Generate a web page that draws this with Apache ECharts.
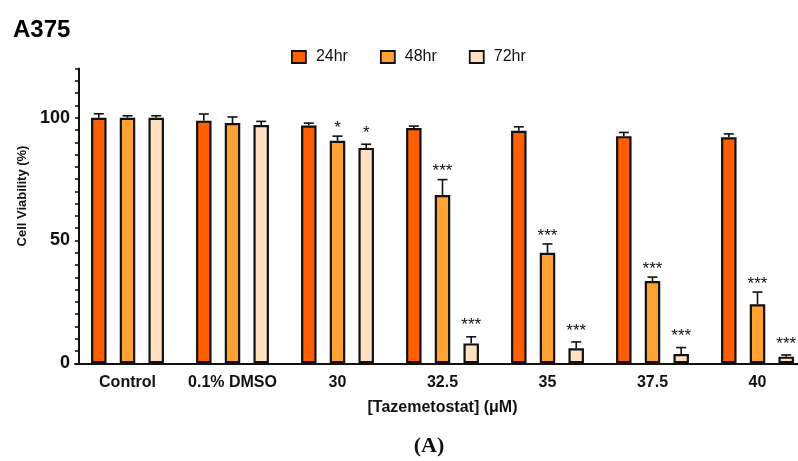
<!DOCTYPE html>
<html>
<head>
<meta charset="utf-8">
<script src="https://cdn.jsdelivr.net/npm/echarts@6/dist/echarts.min.js"></script>
<style>
html,body{margin:0;padding:0;background:#fff;}
#chart{width:798px;height:461px;}
</style>
</head>
<body>
<div id="chart"></div>
<script>
var categories = ['Control', '0.1% DMSO', '30', '32.5', '35', '37.5', '40'];
var seriesNames = ['24hr', '48hr', '72hr'];
var mean24 = [100, 98.8, 96.8, 95.8, 94.7, 92.5, 92.0];
var err24  = [1.6, 2.7, 1.0, 0.8, 1.6, 1.5, 1.4];
var mean48 = [100, 97.8, 90.6, 68.5, 45.0, 33.5, 24.0];
var err48  = [0.8, 2.5, 1.9, 6.3, 3.6, 1.6, 5.0];
var mean72 = [100, 97.0, 87.7, 8.1, 6.1, 3.8, 2.7];
var err72  = [0.8, 1.5, 1.5, 2.7, 2.6, 2.6, 0.7];
var sig24  = ['', '', '', '', '', '', ''];
var sig48  = ['', '', '*', '***', '***', '***', '***'];
var sig72  = ['', '', '*', '***', '***', '***', '***'];
var yTickLabels = [0, 50, 100];

var colors = ['#FF5F00', '#FFA133', '#FFE0C0'];
var means = [mean24, mean48, mean72];
var errs = [err24, err48, err72];
var sigs = [sig24, sig48, sig72];
var FONT = "'Liberation Sans', Arial, Helvetica, sans-serif";
var BAR_W = 15.5, BORDER = 2.2;
var STEP = 28.7;
var BAR_GAP = (STEP - BAR_W) / BAR_W;
var starGap = [12, 12, 15];

var chart = echarts.init(document.getElementById('chart'), null, {renderer: 'canvas'});

var series = [];
seriesNames.forEach(function (name, s) {
  series.push({
    name: name,
    type: 'bar',
    data: means[s],
    barWidth: BAR_W,
    barGap: (BAR_GAP * 100) + '%',
    itemStyle: {color: colors[s], borderColor: '#111', borderWidth: BORDER},
    emphasis: {disabled: true},
    z: 2
  });
});
seriesNames.forEach(function (name, s) {
  series.push({
    type: 'custom',
    name: name + '_err',
    data: means[s].map(function (m, i) { return [i, m, errs[s][i]]; }),
    z: 5,
    silent: true,
    renderItem: function (params, api) {
      var i = api.value(0), m = api.value(1), e = api.value(2);
      var x = api.coord([i, 0])[0] + (s - 1) * STEP;
      var yTop = api.coord([i, m])[1];
      var yErr = api.coord([i, m + e])[1];
      var children = [
        {type: 'line', shape: {x1: x, y1: yTop, x2: x, y2: yErr}, style: {stroke: '#111', lineWidth: 1.6}},
        {type: 'line', shape: {x1: x - 5, y1: yErr, x2: x + 5, y2: yErr}, style: {stroke: '#111', lineWidth: 1.6}}
      ];
      var t = sigs[s][params.dataIndex];
      if (t) {
        children.push({type: 'text', style: {text: t, x: x, y: yErr - starGap[s] + 4, align: 'center', verticalAlign: 'middle', font: '17px ' + FONT, fill: '#111'}});
      }
      return {type: 'group', children: children};
    }
  });
});

chart.setOption({
  animation: false,
  backgroundColor: '#fff',
  title: {
    text: 'A375', left: 8, top: 13,
    textStyle: {fontFamily: FONT, fontSize: 24, fontWeight: 'bold', color: '#000'}
  },
  legend: {
    data: seriesNames,
    left: 286, top: 44,
    icon: 'rect', itemWidth: 14, itemHeight: 12, itemGap: 32,
    itemStyle: {borderColor: '#111', borderWidth: 1.8},
    textStyle: {fontFamily: FONT, fontSize: 16, color: '#111', padding: [0, 0, 0, 5]}
  },
  grid: {left: 75, width: 735, top: 68.6, bottom: 97.7, containLabel: false, outerBoundsMode: 'none'},
  xAxis: {
    type: 'category',
    data: categories,
    axisLine: {lineStyle: {color: '#111', width: 2}},
    axisTick: {alignWithLabel: true, length: 5, lineStyle: {color: '#111', width: 1.6}},
    axisLabel: {interval: 0, margin: 11, fontFamily: FONT, fontSize: 16, fontWeight: 'bold', color: '#111'},
    name: '[Tazemetostat] (μM)',
    nameLocation: 'middle',
    nameGap: 36,
    nameTextStyle: {fontFamily: FONT, fontSize: 16, fontWeight: 'bold', color: '#111'}
  },
  yAxis: {
    type: 'value',
    min: 0, max: 120, interval: 5,
    offset: -4,
    splitLine: {show: false},
    axisLine: {show: true, lineStyle: {color: '#111', width: 2}},
    axisTick: {show: true, length: 4, lineStyle: {color: '#111', width: 1.6}},
    axisLabel: {
      margin: 9, fontFamily: FONT, fontSize: 18, fontWeight: 'bold', color: '#111',
      formatter: function (v) { return yTickLabels.indexOf(v) >= 0 ? String(v) : ''; }
    }
  },
  graphic: [
    {type: 'text', x: 22, y: 196, rotation: Math.PI / 2, silent: true,
     style: {text: 'Cell Viability (%)', align: 'center', verticalAlign: 'middle', font: 'bold 13px ' + FONT, fill: '#111'}},
    {type: 'text', x: 429, y: 446, silent: true,
     style: {text: '(A)', align: 'center', verticalAlign: 'middle', font: 'bold 22px "Liberation Serif", "DejaVu Serif", serif', fill: '#111'}}
  ],
  series: series
});
</script>
</body>
</html>
